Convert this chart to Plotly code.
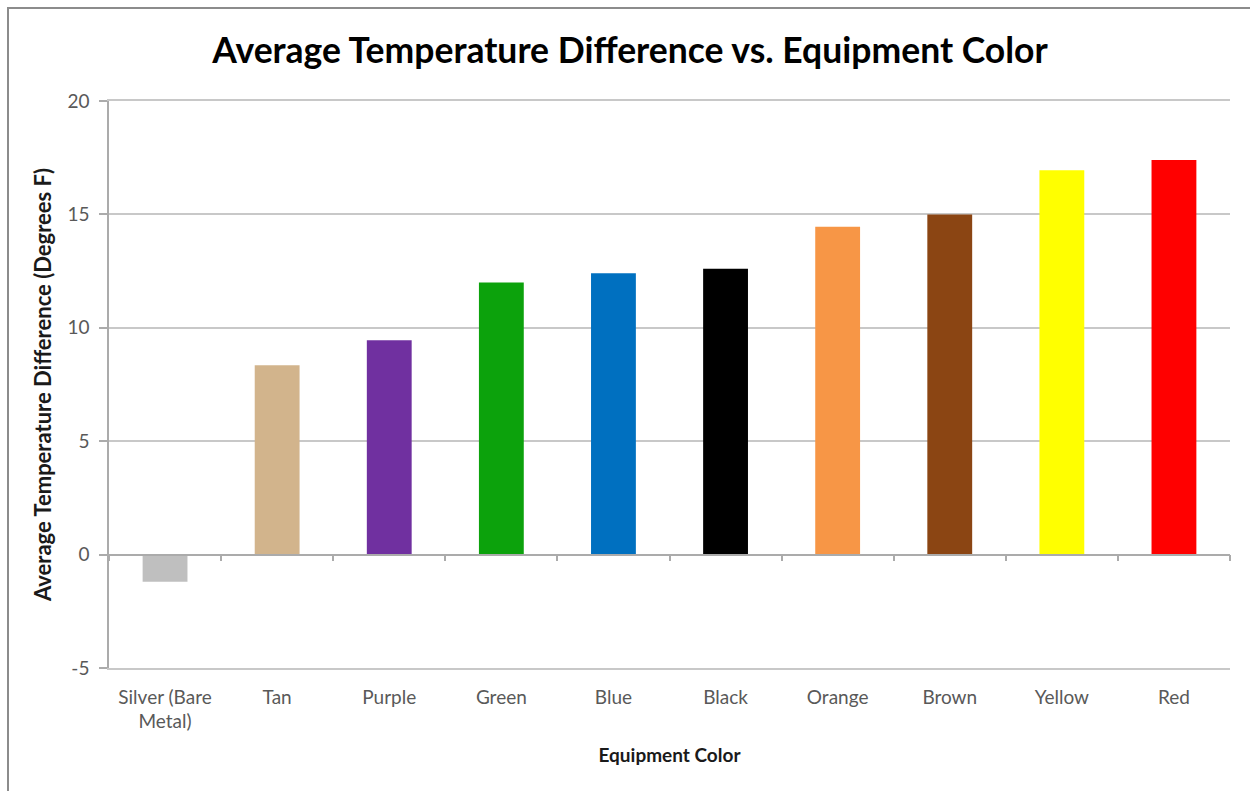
import plotly.graph_objects as go

# Chart data
categories = ["Silver (Bare<br>Metal)", "Tan", "Purple", "Green", "Blue",
              "Black", "Orange", "Brown", "Yellow", "Red"]
avg_temp_diff = [-1.2, 8.35, 9.45, 12.0, 12.4, 12.6, 14.45, 15.0, 16.95, 17.4]
bar_colors = ["#BFBFBF", "#D2B48C", "#7030A0", "#0CA20C", "#0070C0",
              "#000000", "#F79646", "#8B4513", "#FFFF00", "#FF0000"]
y_ticks = [-5, 0, 5, 10, 15, 20]
y_tick_labels = ["-5", "0", "5", "10", "15", "20"]

W, H = 1250, 791
M_L, M_R, M_T, M_B = 109, 20, 101, 123
plot_w = W - M_L - M_R
plot_h = H - M_T - M_B
y_min, y_max = -5, 20

FONT = "Lato, Carlito, Calibri, sans-serif"
GRID = "#C8C8C8"
AXIS = "#ABABAB"
TICK_TXT = "#595959"

fig = go.Figure()

fig.add_trace(go.Bar(
    x=categories,
    y=avg_temp_diff,
    marker=dict(color=bar_colors, line=dict(width=0)),
    width=0.4,
    showlegend=False,
    hovertemplate="%{x}: %{y}<extra></extra>",
))

# Carrier trace for the category axis that crosses at y = 0
fig.add_trace(go.Scatter(
    x=categories, y=[0] * len(categories), xaxis="x2", yaxis="y",
    mode="none", showlegend=False, hoverinfo="skip",
))

zero_pos = (0 - y_min) / (y_max - y_min)

fig.update_layout(
    width=W, height=H,
    margin=dict(l=M_L, r=M_R, t=M_T, b=M_B),
    paper_bgcolor="white",
    plot_bgcolor="white",
    font=dict(family=FONT, color=TICK_TXT),
    title=dict(
        text="<b>Average Temperature Difference vs. Equipment Color</b>",
        font=dict(family=FONT, size=35.5, color="#000000"),
        xref="container", x=630 / W, xanchor="center",
        yref="container", y=1 - 51 / H, yanchor="middle",
    ),
    xaxis=dict(
        type="category",
        categoryorder="array", categoryarray=categories,
        range=[-0.5, len(categories) - 0.5],
        showgrid=False,
        showline=True, linecolor=GRID, linewidth=1.5, mirror=True,
        ticks="", ticklabelstandoff=11,
        tickfont=dict(family=FONT, size=19, color=TICK_TXT),
        title=dict(text="<b>Equipment Color</b>",
                   font=dict(family=FONT, size=19, color="#1A1A1A"),
                   standoff=17),
        fixedrange=True,
    ),
    xaxis2=dict(
        type="category",
        categoryorder="array", categoryarray=categories,
        range=[-0.5, len(categories) - 0.5],
        overlaying="x", anchor="free", position=zero_pos, side="bottom",
        showgrid=False, showticklabels=False,
        showline=True, linecolor=AXIS, linewidth=1.5,
        ticks="outside", tickson="boundaries", ticklen=6,
        tickcolor=AXIS, tickwidth=1.5,
        fixedrange=True,
    ),
    yaxis=dict(
        range=[y_min, y_max],
        tickvals=y_ticks, ticktext=y_tick_labels,
        showgrid=True, gridcolor=GRID, gridwidth=1.5,
        zeroline=False,
        showline=True, linecolor=AXIS, linewidth=1.5,
        ticks="outside", ticklen=8, tickcolor=AXIS, tickwidth=1.5,
        ticklabelstandoff=6,
        tickfont=dict(family=FONT, size=19, color=TICK_TXT),
        title=dict(text="<b>Average Temperature Difference (Degrees F)</b>",
                   font=dict(family=FONT, size=22, color="#1A1A1A"),
                   standoff=10),
        fixedrange=True,
    ),
)

# Outer chart frame
fig.add_shape(
    type="rect", xref="paper", yref="paper",
    x0=(8 - M_L) / plot_w, x1=(W + 10 - M_L) / plot_w,
    y0=-(H + 10 - (M_T + plot_h)) / plot_h, y1=1 + (M_T - 8) / plot_h,
    line=dict(color="#8C8C8C", width=2), fillcolor="rgba(0,0,0,0)",
    layer="below",
)

fig.write_html("out.html")
